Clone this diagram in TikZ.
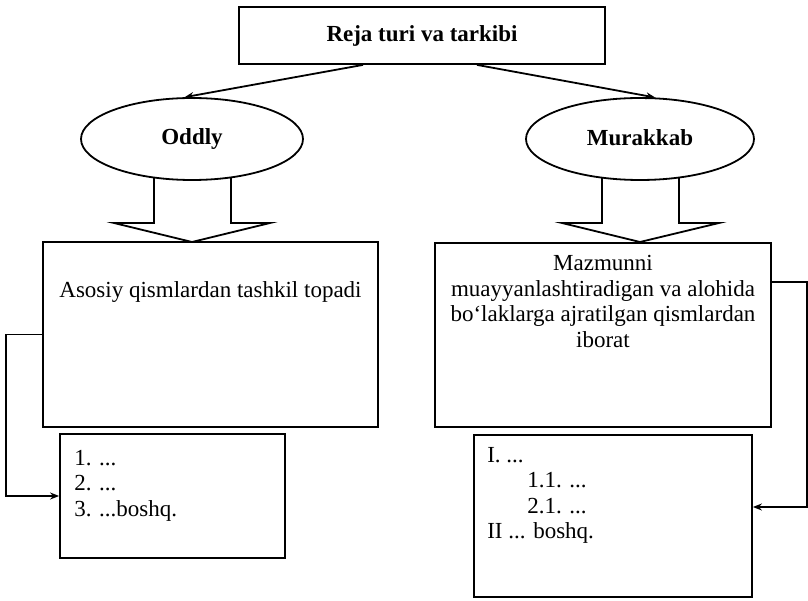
\documentclass[tikz,border=0pt]{standalone}
\usepackage{fontspec}
\setmainfont{Liberation Serif}[Ligatures=ResetAll]
\usetikzlibrary{arrows.meta,positioning,shapes.geometric,calc,backgrounds}

\begin{document}
\begin{tikzpicture}[x=1pt, y=-1pt, font=\fontsize{23}{25.5}\selectfont,
  box/.style={draw, line width=1.8pt, fill=white, rectangle, inner sep=0pt},
  oval/.style={draw, line width=1.8pt, fill=white, ellipse, inner sep=0pt, minimum width=222pt, minimum height=82pt, font=\fontsize{23}{25.5}\selectfont\bfseries},
  txt/.style={align=left, inner sep=0pt},
  link/.style={line width=1.8pt, -{Stealth[length=9pt,width=7pt]}},
  fat/.style={draw, line width=1.8pt, fill=white, line join=miter},
]
\useasboundingbox (0,0) rectangle (808,601);
% title and the two kinds
\node[box, minimum width=366pt, minimum height=57pt, font=\fontsize{23}{25.5}\selectfont\bfseries] (reja) at (422,35.5) {Reja turi va tarkibi};
\node[oval] (oddiy) at (192,139) {\raisebox{4pt}{Oddly}};
\node[oval, minimum width=228pt] (murak) at (640,139) {\raisebox{3pt}{Murakkab}};
\draw[link] ([xshift=-59pt]reja.south) -- (oddiy.100);
\draw[link] ([xshift=55pt]reja.south) -- (murak.70);

% main boxes
\node[box, minimum width=335pt, minimum height=185pt] (oddbox) at (210.5,334.5) {};
\node[txt, align=center, below=40pt of oddbox.north] (oddtxt) {Asosiy qismlardan tashkil topadi};
\node[box, minimum width=336pt, minimum height=184pt] (murbox) at (603,335) {};
\node[txt, align=center, below=13pt of murbox.north] (murtxt) {Mazmunni\\muayyanlashtiradigan va alohida\\bo`laklarga ajratilgan qismlardan\\iborat};

% fat arrows
\begin{scope}[on background layer]
\draw[fat] ($(oddiy.center)+(-38,0)$) -- ++(0,84) -- ++(-40,0) -- ($(oddiy.center)+(0,103)$) -- ++(78,-19) -- ++(-39,0) -- ++(0,-84);
\draw[fat] ($(murak.center)+(-38,0)$) -- ++(0,84) -- ++(-40,0) -- ($(murak.center)+(0,103)$) -- ++(79,-19) -- ++(-40,0) -- ++(0,-84);
\end{scope}

% lists
\node[box, minimum width=225pt, minimum height=124pt] (oddlist) at (172.5,496) {};
\node[txt, anchor=north west] (oddsub) at ($(oddlist.north west)+(15,17)$) {1. ...\\2. ...\\3. ...boshq.};
\node[box, minimum width=278pt, minimum height=162pt] (murlist) at (613,516) {};
\node[txt, anchor=north west] (mursub) at ($(murlist.north west)+(14,13)$) {I. ...\\\hspace{40pt}1.1. ...\\\hspace{40pt}2.1. ...\\II ... boshq.};

\draw[link] (oddbox.west) -- ++(-36,0) |- (oddlist.west);
\draw[link] ([yshift=53pt]murbox.east) -- ++(35,0) |- ([yshift=9pt]murlist.east);
\end{tikzpicture}
\end{document}
